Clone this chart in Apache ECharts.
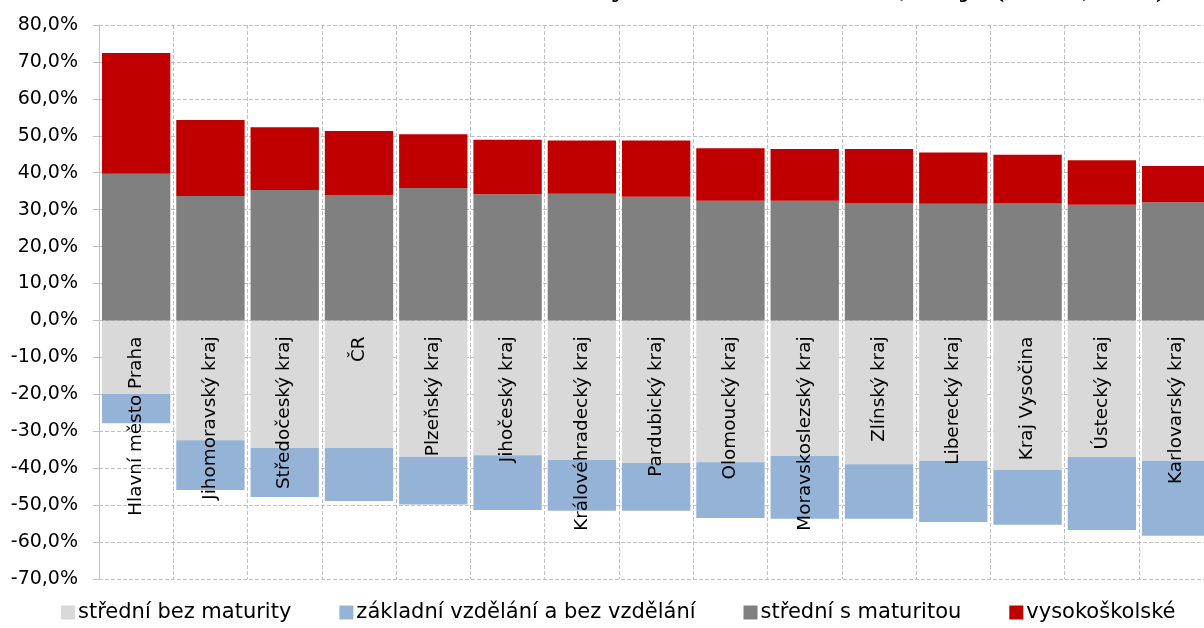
<!DOCTYPE html>
<html>
<head>
<meta charset="utf-8">
<script src="https://cdn.jsdelivr.net/npm/echarts@6/dist/echarts.min.js"></script>
<style>
html,body{margin:0;padding:0;background:#fff;}
#chart{width:1204px;height:628px;}
</style>
</head>
<body>
<div id="chart"></div>
<script>
const categories = ['Hlavní město Praha','Jihomoravský kraj','Středočeský kraj','ČR','Plzeňský kraj','Jihočeský kraj','Královéhradecký kraj','Pardubický kraj','Olomoucký kraj','Moravskoslezský kraj','Zlínský kraj','Liberecký kraj','Kraj Vysočina','Ústecký kraj','Karlovarský kraj'];
const stredniBezMaturity = [-19.9,-32.4,-34.5,-34.5,-36.9,-36.5,-37.8,-38.6,-38.4,-36.7,-38.9,-38.0,-40.5,-37.0,-38.0];
const zakladni = [-7.9,-13.5,-13.3,-14.4,-12.9,-14.8,-13.7,-12.9,-15.1,-17.0,-14.8,-16.6,-14.8,-19.7,-20.3];
const stredniSMaturitou = [39.7,33.7,35.3,34.0,35.9,34.2,34.3,33.5,32.4,32.4,31.7,31.6,31.7,31.3,32.0];
const vysokoskolske = [32.7,20.6,17.0,17.3,14.5,14.7,14.4,15.2,14.2,14.0,14.7,13.9,13.2,12.1,9.8];
const yTicks = {min:-70, max:80, interval:10};
const seriesNames = ['střední bez maturity','základní vzdělání a bez vzdělání','střední s maturitou','vysokoškolské'];
const titleText = 'Vzdělanostní struktura obyvatelstva dle vzdělání, krajů (SLDB, 2011)';

const W = 1204, H = 628;
const gridTop = 25, gridBottom = 49;
const plotH = H - gridTop - gridBottom;
const zeroFromBottom = plotH * (0 - yTicks.min) / (yTicks.max - yTicks.min);

const chart = echarts.init(document.getElementById('chart'));
const font = 'DejaVu Sans';
const mk = (name, data, color) => ({
  name, type:'bar', stack:'s', data, barCategoryGap:'8%',
  itemStyle:{color}, emphasis:{disabled:true}
});
chart.setOption({
  animation:false,
  graphic:[{type:'text', x:1166, y:3, style:{text:titleText, align:'right', verticalAlign:'bottom', font:'bold 30px "Liberation Serif"', fill:'#000'}}],
  grid:{left:99, right:-9.3, top:gridTop, bottom:gridBottom, containLabel:false, outerBoundsMode:'none'},
  legend:{
    bottom:0, left:56, itemWidth:14, itemHeight:14, itemGap:48, icon:'rect',
    textStyle:{fontFamily:font, fontSize:21, color:'#000', padding:[0,0,0,-2]},
    data:seriesNames
  },
  xAxis:[{
    type:'category', data:categories, z:10, position:'bottom', offset:-zeroFromBottom,
    axisLine:{show:false, onZero:false},
    axisTick:{show:false},
    axisLabel:{interval:0, rotate:90, margin:16, fontFamily:font, fontSize:18.4, color:'#000'},
    splitLine:{show:false}
  },{
    type:'category', data:categories, position:'bottom',
    axisLine:{show:false, onZero:false}, axisTick:{show:false}, axisLabel:{show:false},
    splitLine:{show:true, interval:0, lineStyle:{color:'#bfbfbf', type:'dashed', width:1}}
  }],
  yAxis:{
    type:'value', min:yTicks.min, max:yTicks.max, interval:yTicks.interval,
    axisLine:{show:true, lineStyle:{color:'#bfbfbf', type:'dashed'}},
    axisTick:{show:true, inside:false, length:6, lineStyle:{color:'#bfbfbf'}},
    axisLabel:{margin:21, fontFamily:font, fontSize:19, color:'#000',
      formatter:v=>v.toFixed(1).replace('.',',')+'%'},
    splitLine:{show:true, lineStyle:{color:'#bfbfbf', type:'dashed', width:1}}
  },
  series:[
    mk(seriesNames[0], stredniBezMaturity, '#D9D9D9'),
    mk(seriesNames[1], zakladni, '#95B3D7'),
    mk(seriesNames[2], stredniSMaturitou, '#808080'),
    mk(seriesNames[3], vysokoskolske, '#C00000')
  ]
});
</script>
</body>
</html>
